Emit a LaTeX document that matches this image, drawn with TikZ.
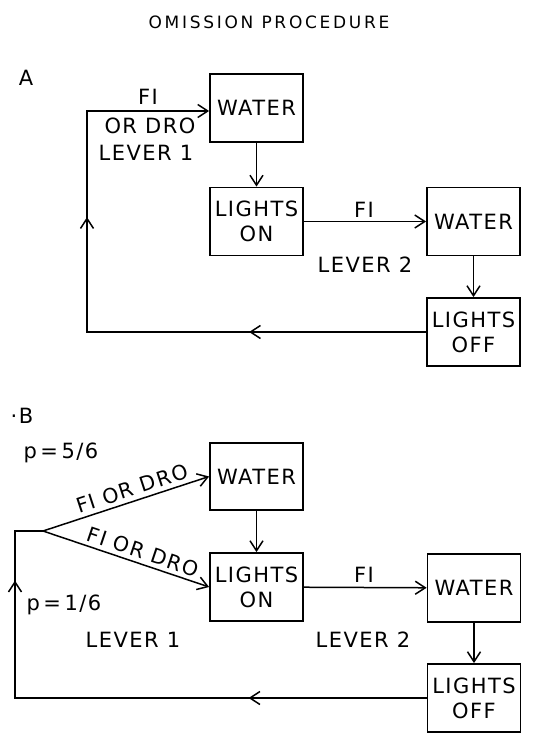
\documentclass[tikz,border=0pt]{standalone}
\usepackage{fontspec}
\setmainfont{DejaVu Sans}[LetterSpace=7]
\usetikzlibrary{arrows.meta,decorations.markings}
\newcommand\lblfont{\fontsize{21}{25}\selectfont}
\newcommand\slpfont{\fontsize{20.5}{24}\selectfont}
\newcommand\ttlfont{\fontsize{17}{20}\selectfont\addfontfeatures{LetterSpace=16}}
\tikzset{
  tipA/.tip={Straight Barb[length=10pt,width=13pt,line width=1.5pt]},
}
\begin{document}
\begin{tikzpicture}[x=1pt,y=1pt,
  box/.style={draw, line width=1.8pt, minimum width=93pt, minimum height=68pt, inner sep=0pt, align=center, font=\lblfont},
  conn/.style={line width=1.5pt, -tipA},
  plain/.style={line width=1.5pt},
  txt/.style={font=\lblfont, inner sep=0pt},
  slp/.style={font=\slpfont, inner sep=0pt, sloped, above=4pt},
  midarrows/.style 2 args={postaction={decorate}, decoration={markings,
      mark=at position #1pt with {\arrow{tipA}},
      mark=at position #2pt with {\arrow{tipA}}}}
]
\useasboundingbox (0,0) rectangle (534,-733);

\node[font=\ttlfont, inner sep=0pt] (title) at (269,-22) {OMISSION PROCEDURE};

% ---------------- Part A ----------------
\node[txt] (lA) at (26,-78) {A};
\node[box] (w1) at (256.5,-108) {WATER};
\node[box] (on1) at (256.5,-221.5) {LIGHTS\\ON};
\node[box] (w2) at (473.5,-221.5) {WATER};
\node[box] (off1) at (473.5,-332) {LIGHTS\\OFF};

\draw[conn] (w1) -- (on1);
\draw[conn] (on1) -- (w2);
\draw[conn] (w2) -- (off1);

\coordinate (cA) at (87,-111);
\draw[conn, midarrows={177}{454}] (off1.west) -- (off1.west -| cA) -- (cA) -- (w1.west |- cA);

\node[txt] (fi1) at (148,-97) {FI};
\node[txt] (ordro) at (150,-126) {OR DRO};
\node[txt] (lev1a) at (146,-153) {LEVER 1};
\node[txt] (fi2) at (364,-210) {FI};
\node[txt] (lev2a) at (365,-265) {LEVER 2};

% ---------------- Part B ----------------
\node[txt] (lB) at (22,-416) {·B};
\node[txt] (p56) at (61,-453) {p\,=\,5/6};
\node[txt] (p16) at (64,-605) {p\,=\,1/6};

\node[box, minimum height=67pt] (w3) at (256.5,-476.5) {WATER};
\node[box] (on2) at (256.5,-587) {LIGHTS\\ON};
\node[box] (w4) at (474,-588) {WATER};
\node[box] (off2) at (474,-698) {LIGHTS\\OFF};

\draw[conn] (w3) -- (on2);
\draw[conn] (on2) -- (w4);
\draw[conn] (w4) -- (off2);

\coordinate (cB) at (15,-531);
\coordinate (br) at (43,-531);
\draw[plain, midarrows={178}{529}] (off2.west) -- (off2.west -| cB) -- (cB) -- (br);
\draw[conn] (br) -- node[slp, pos=0.56] (lbu) {FI OR DRO} (w3.west);
\draw[conn] (br) -- node[slp, pos=0.58] (lbl) {FI OR DRO} (on2.west);

\node[txt] (fi3) at (364,-575) {FI};
\node[txt] (lev1b) at (133,-640) {LEVER 1};
\node[txt] (lev2b) at (363,-640) {LEVER 2};
\end{tikzpicture}
\end{document}
